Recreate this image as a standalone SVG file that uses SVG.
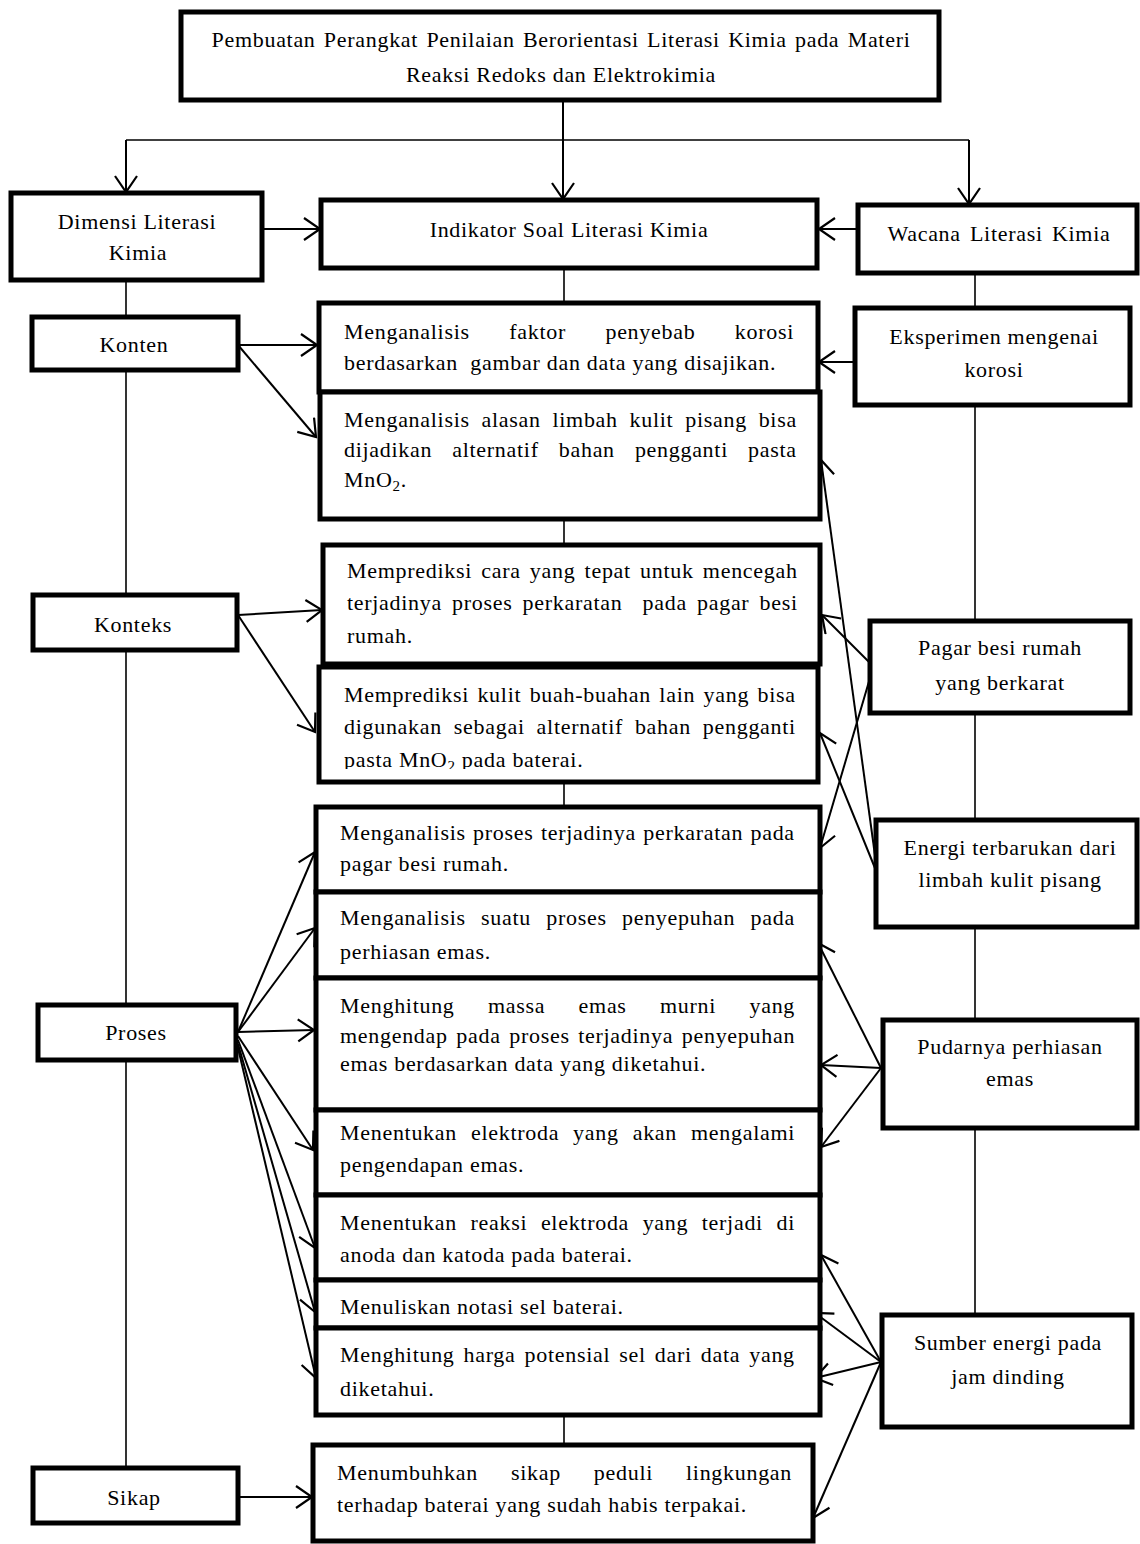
<svg xmlns="http://www.w3.org/2000/svg" width="1140" height="1544" viewBox="0 0 1140 1544">
<style>
.box{fill:#fff;stroke:#000;stroke-width:5}
.t{font-family:"Liberation Serif","Times New Roman",serif;font-size:22px;letter-spacing:0.7px;fill:#000}
.c{text-anchor:middle}
.ln{stroke:#000;stroke-width:2;fill:none;marker-end:url(#ah)}
.sp{stroke:#000;stroke-width:1.6;fill:none}
.sub{font-size:15px}
</style>
<defs>
<marker id="ah" markerUnits="userSpaceOnUse" markerWidth="20" markerHeight="26" refX="17" refY="12" orient="auto">
<path d="M1,1 L17,12 L1,23" fill="none" stroke="#000" stroke-width="2.2"/>
</marker>
<clipPath id="cut4"><rect x="300" y="660" width="540" height="109"/></clipPath>
</defs>
<rect width="1140" height="1544" fill="#fff"/>
<g id="connectors">
<line class="sp" x1="126" y1="280" x2="126" y2="1468"/>
<line class="sp" x1="975" y1="273" x2="975" y2="1315"/>
<line class="sp" x1="564" y1="268" x2="564" y2="303"/>
<line class="sp" x1="564" y1="519" x2="564" y2="545"/>
<line class="sp" x1="564" y1="782" x2="564" y2="807"/>
<line class="sp" x1="564" y1="1415" x2="564" y2="1445"/>
<line class="sp" x1="126" y1="140" x2="969" y2="140"/>
<line class="ln" x1="563" y1="100" x2="563" y2="199"/>
<line class="ln" x1="126" y1="140" x2="126" y2="192"/>
<line class="ln" x1="969" y1="140" x2="969" y2="204"/>
<line class="ln" x1="262" y1="229" x2="320" y2="229"/>
<line class="ln" x1="858" y1="229" x2="819" y2="229"/>
<line class="ln" x1="238" y1="345" x2="317" y2="345"/>
<line class="ln" x1="238" y1="345" x2="316" y2="437"/>
<line class="ln" x1="238" y1="615" x2="322" y2="610"/>
<line class="ln" x1="238" y1="615" x2="315" y2="732"/>
<line class="ln" x1="238" y1="1032" x2="315" y2="852"/>
<line class="ln" x1="238" y1="1032" x2="315" y2="928"/>
<line class="ln" x1="238" y1="1032" x2="314" y2="1030"/>
<line class="ln" x1="238" y1="1036" x2="313" y2="1150"/>
<line class="ln" x1="238" y1="1040" x2="315" y2="1248"/>
<line class="ln" x1="238" y1="1044" x2="315" y2="1312"/>
<line class="ln" x1="238" y1="1048" x2="316" y2="1378"/>
<line class="ln" x1="238" y1="1497" x2="312" y2="1497"/>
<line class="ln" x1="855" y1="362" x2="819" y2="362"/>
<line class="ln" x1="870" y1="663" x2="822" y2="615"/>
<line class="ln" x1="870" y1="678" x2="820" y2="848"/>
<line class="ln" x1="877" y1="870" x2="821" y2="460"/>
<line class="ln" x1="877" y1="873" x2="820" y2="733"/>
<line class="ln" x1="881" y1="1068" x2="818" y2="943"/>
<line class="ln" x1="881" y1="1068" x2="821" y2="1065"/>
<line class="ln" x1="881" y1="1068" x2="821" y2="1147"/>
<line class="ln" x1="881" y1="1362" x2="821" y2="1255"/>
<line class="ln" x1="881" y1="1362" x2="815" y2="1313"/>
<line class="ln" x1="881" y1="1362" x2="815" y2="1378"/>
<line class="ln" x1="881" y1="1362" x2="813" y2="1518"/>
</g>
<g id="title">
<rect class="box" x="181" y="12" width="758" height="88"/>
<text class="t c" x="561" y="47" word-spacing="2.1">Pembuatan Perangkat Penilaian Berorientasi Literasi Kimia pada Materi</text>
<text class="t c" x="561" y="82">Reaksi Redoks dan Elektrokimia</text>
</g>
<g id="dimensi">
<rect class="box" x="11" y="193" width="251" height="87"/>
<text class="t c" x="137" y="229">Dimensi Literasi</text>
<text class="t c" x="138" y="260">Kimia</text>
</g>
<g id="indikator">
<rect class="box" x="321" y="200" width="496" height="68"/>
<text class="t c" x="569" y="237">Indikator Soal Literasi Kimia</text>
</g>
<g id="wacana">
<rect class="box" x="858" y="205" width="279" height="68"/>
<text class="t c" x="999" y="241" word-spacing="3">Wacana Literasi Kimia</text>
</g>
<g id="konten">
<rect class="box" x="32" y="317" width="206" height="53"/>
<text class="t c" x="134" y="352">Konten</text>
</g>
<g id="konteks">
<rect class="box" x="33" y="595" width="204" height="55"/>
<text class="t c" x="133" y="632">Konteks</text>
</g>
<g id="proses">
<rect class="box" x="38" y="1005" width="198" height="55"/>
<text class="t c" x="136" y="1040">Proses</text>
</g>
<g id="sikap">
<rect class="box" x="33" y="1468" width="205" height="55"/>
<text class="t c" x="134" y="1505">Sikap</text>
</g>
<g id="eksperimen">
<rect class="box" x="855" y="308" width="275" height="97"/>
<text class="t c" x="994" y="344">Eksperimen mengenai</text>
<text class="t c" x="994" y="377">korosi</text>
</g>
<g id="pagar">
<rect class="box" x="870" y="621" width="260" height="92"/>
<text class="t c" x="1000" y="655">Pagar besi rumah</text>
<text class="t c" x="1000" y="690">yang berkarat</text>
</g>
<g id="energi">
<rect class="box" x="876" y="820" width="261" height="107"/>
<text class="t c" x="1010" y="855">Energi terbarukan dari</text>
<text class="t c" x="1010" y="887">limbah kulit pisang</text>
</g>
<g id="pudarnya">
<rect class="box" x="883" y="1020" width="254" height="108"/>
<text class="t c" x="1010" y="1054">Pudarnya perhiasan</text>
<text class="t c" x="1010" y="1086">emas</text>
</g>
<g id="sumber">
<rect class="box" x="882" y="1315" width="250" height="112"/>
<text class="t c" x="1008" y="1350">Sumber energi pada</text>
<text class="t c" x="1008" y="1384">jam dinding</text>
</g>
<g id="ind1">
<rect class="box" x="319" y="303" width="499" height="89"/>
<text class="t" x="344" y="339" word-spacing="33.3">Menganalisis faktor penyebab korosi</text>
<text class="t" x="344" y="370" xml:space="preserve">berdasarkan  gambar dan data yang disajikan.</text>
</g>
<g id="ind2">
<rect class="box" x="320" y="392" width="500" height="127"/>
<text class="t" x="344" y="427" word-spacing="5.6">Menganalisis alasan limbah kulit pisang bisa</text>
<text class="t" x="344" y="457" word-spacing="13.9">dijadikan alternatif bahan pengganti pasta</text>
<text class="t" x="344" y="487">MnO<tspan class="sub" dy="4">2</tspan><tspan dy="-4">.</tspan></text>
</g>
<g id="ind3">
<rect class="box" x="323" y="545" width="497" height="119"/>
<text class="t" x="347" y="578" word-spacing="3">Memprediksi cara yang tepat untuk mencegah</text>
<text class="t" x="347" y="610" word-spacing="3.9" xml:space="preserve">terjadinya proses perkaratan  pada pagar besi</text>
<text class="t" x="347" y="643">rumah.</text>
</g>
<g id="ind4">
<rect class="box" x="319" y="667" width="499" height="115"/>
<text class="t" x="344" y="702" word-spacing="2.2">Memprediksi kulit buah-buahan lain yang bisa</text>
<text class="t" x="344" y="734" word-spacing="5.7">digunakan sebagai alternatif bahan pengganti</text>
<text class="t" x="344" y="767" clip-path="url(#cut4)">pasta MnO<tspan class="sub" dy="4">2</tspan><tspan dy="-4"> pada baterai.</tspan></text>
</g>
<g id="ind5">
<rect class="box" x="316" y="807" width="504" height="85"/>
<text class="t" x="340" y="840" word-spacing="1.2">Menganalisis proses terjadinya perkaratan pada</text>
<text class="t" x="340" y="871">pagar besi rumah.</text>
</g>
<g id="ind6">
<rect class="box" x="316" y="892" width="504" height="86"/>
<text class="t" x="340" y="925" word-spacing="9.1">Menganalisis suatu proses penyepuhan pada</text>
<text class="t" x="340" y="959">perhiasan emas.</text>
</g>
<g id="ind7">
<rect class="box" x="316" y="978" width="504" height="132"/>
<text class="t" x="340" y="1013" word-spacing="27.2">Menghitung massa emas murni yang</text>
<text class="t" x="340" y="1043" word-spacing="2.4">mengendap pada proses terjadinya penyepuhan</text>
<text class="t" x="340" y="1071">emas berdasarkan data yang diketahui.</text>
</g>
<g id="ind8">
<rect class="box" x="316" y="1110" width="504" height="85"/>
<text class="t" x="340" y="1140" word-spacing="7.8">Menentukan elektroda yang akan mengalami</text>
<text class="t" x="340" y="1172">pengendapan emas.</text>
</g>
<g id="ind9">
<rect class="box" x="316" y="1195" width="504" height="85"/>
<text class="t" x="340" y="1230" word-spacing="7.4">Menentukan reaksi elektroda yang terjadi di</text>
<text class="t" x="340" y="1262">anoda dan katoda pada baterai.</text>
</g>
<g id="ind10">
<rect class="box" x="316" y="1280" width="504" height="48"/>
<text class="t" x="340" y="1314">Menuliskan notasi sel baterai.</text>
</g>
<g id="ind11">
<rect class="box" x="316" y="1328" width="504" height="87"/>
<text class="t" x="340" y="1362" word-spacing="2.8">Menghitung harga potensial sel dari data yang</text>
<text class="t" x="340" y="1396">diketahui.</text>
</g>
<g id="ind12">
<rect class="box" x="313" y="1445" width="500" height="96"/>
<text class="t" x="337" y="1480" word-spacing="26.8">Menumbuhkan sikap peduli lingkungan</text>
<text class="t" x="337" y="1512">terhadap baterai yang sudah habis terpakai.</text>
</g>
</svg>
